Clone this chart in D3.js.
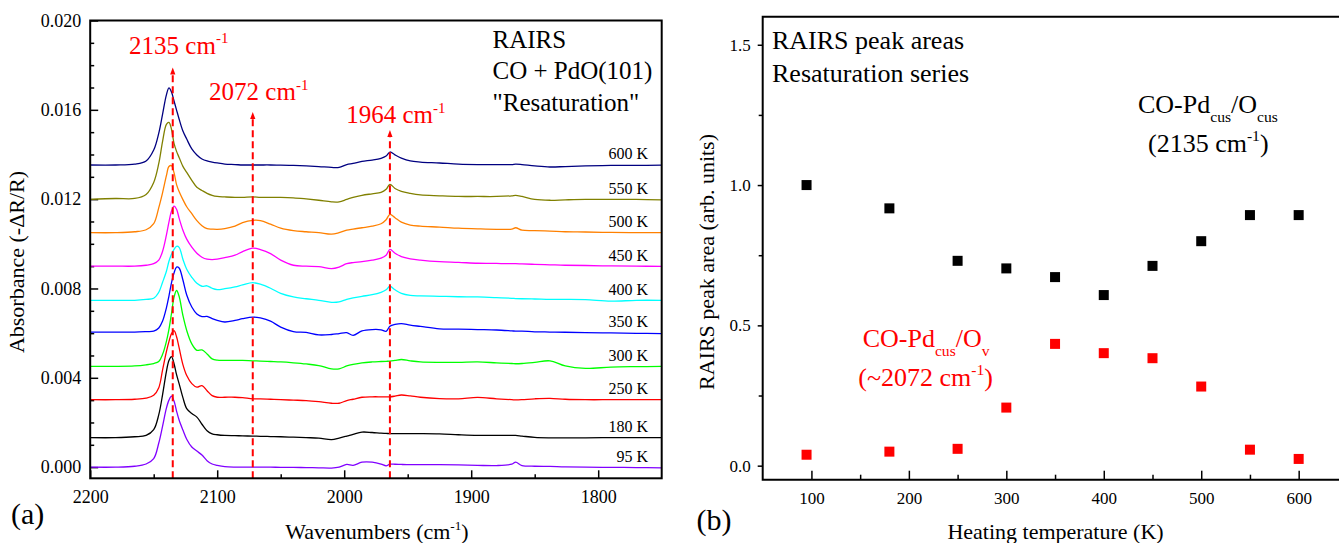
<!DOCTYPE html>
<html>
<head>
<meta charset="utf-8">
<script src="https://cdn.jsdelivr.net/npm/d3@7"></script>
<style>
    body { margin: 0; background: #fff; }
    svg { display: block; font-family: "Liberation Serif", "Times New Roman", serif; }
</style>
</head>
<body>
<div id="chart"></div>
<script>
// ---------- panel (a): RAIRS spectra ----------
// wavenumber grid shared by every spectrum (cm-1)
const wavenumbers = [2200, 2180, 2165, 2156, 2150, 2146, 2143, 2140, 2138, 2136,
    2134, 2132, 2130, 2127, 2124, 2120, 2116, 2112, 2108, 2104,
    2100, 2094, 2086, 2080, 2072, 2066, 2058, 2050, 2040, 2030,
    2020, 2010, 2004, 1998, 1993, 1986, 1978, 1971, 1967, 1964,
    1960, 1955, 1948, 1940, 1925, 1910, 1895, 1880, 1868, 1865,
    1860, 1850, 1838, 1826, 1810, 1790, 1770, 1750];

const temperatureLabels = ["95 K", "180 K", "250 K", "300 K", "350 K", "400 K", "450 K", "500 K", "550 K", "600 K"];
// vertical offset of each trace (absorbance)
const spectraOffsets = [0.0, 0.00132, 0.00302, 0.00451, 0.00605, 0.00747, 0.009, 0.0105, 0.01199, 0.01353];

// absorbance above each trace's offset, in units of 1e-5
const ABS_UNIT = 1e-5;
const absorbance95 = [0, 0, 4, 14, 38, 108, 184, 264, 300, 318, 296, 251, 211, 166, 125, 90, 72, 54, 29, 14, 8, 2, 0, 0, 0, 0, 0, -1, -1, -2, -3, -4, 0, 12, 8, 22, 22, 14, 6, 13, 13, 12, 11, 11, 11, 10, 8, 7, 13, 22, 7, 4, 3, 1, 0, -1, -2, -3];
const absorbance180 = [0, 0, 4, 10, 36, 103, 193, 296, 345, 363, 331, 282, 242, 179, 130, 108, 92, 60, 31, 17, 13, 10, 9, 8, 7, 6, 5, 4, 2, 0, -2, -9, -2, 7, 15, 25, 23, 20, 19, 18, 18, 18, 18, 18, 17, 13, 10, 10, 10, 10, 7, 1, -1, -1, -1, 0, 0, 0];
const absorbance250 = [0, 0, 2, 7, 20, 54, 134, 215, 260, 296, 309, 282, 233, 157, 108, 72, 56, 63, 40, 18, 11, 11, 11, 9, 4, 4, 2, 0, -2, -4, -9, -16, -16, -4, 2, 11, 13, 13, 13, 13, 16, 21, 17, 11, 5, 4, 10, 4, 0, -1, 0, 4, 6, 2, 0, 0, 0, 0];
const absorbance300 = [0, 0, 2, 7, 13, 22, 54, 112, 166, 237, 309, 340, 314, 228, 161, 101, 72, 74, 56, 34, 28, 27, 27, 27, 25, 24, 22, 20, 16, 11, 4, -11, -11, 2, 9, 16, 20, 22, 23, 24, 27, 31, 25, 20, 18, 18, 20, 16, 13, 12, 13, 18, 25, 2, -9, -3, -1, 0];
const absorbance350 = [0, 0, 0, 2, 4, 18, 49, 108, 161, 220, 264, 291, 287, 233, 166, 112, 81, 69, 70, 60, 52, 45, 52, 60, 67, 63, 49, 22, 2, -2, -13, -11, -7, -3, -15, 5, 11, 10, 3, 26, 34, 38, 31, 25, 14, 13, 11, 9, 5, 4, 4, 1, 0, -1, -3, -4, -6, -7];
const absorbance400 = [0, 0, 0, 4, 9, 36, 81, 130, 175, 206, 228, 242, 237, 184, 139, 103, 76, 63, 65, 54, 48, 52, 60, 69, 79, 72, 54, 31, 15, 7, 0, -9, -7, 4, 11, 18, 25, 36, 47, 63, 47, 31, 22, 20, 18, 16, 15, 12, 9, 8, 7, 6, 4, 4, 3, -4, 0, 0];
const absorbance450 = [0, 0, 0, 4, 11, 27, 67, 139, 197, 246, 269, 255, 215, 161, 121, 85, 58, 40, 31, 29, 31, 38, 49, 65, 81, 74, 56, 27, 4, 0, -2, -11, -4, 11, 16, 20, 27, 36, 49, 75, 58, 43, 33, 27, 20, 17, 13, 12, 11, 11, 10, 8, 6, 4, 3, 1, 0, -1];
const absorbance500 = [0, 0, 4, 13, 40, 112, 179, 255, 296, 300, 269, 215, 184, 148, 116, 85, 54, 31, 18, 16, 15, 18, 29, 45, 55, 54, 38, 20, 9, 4, 0, -7, 0, 11, 16, 22, 29, 40, 58, 82, 67, 47, 34, 29, 25, 20, 17, 15, 16, 22, 11, 9, 7, 4, 3, 1, 0, 0];
const absorbance550 = [0, 4, 4, 22, 76, 161, 260, 336, 345, 314, 251, 215, 188, 148, 121, 85, 54, 40, 27, 18, 13, 11, 9, 9, 11, 9, 9, 9, 7, 2, -4, -11, -11, 0, 9, 18, 25, 31, 45, 67, 49, 36, 27, 20, 16, 13, 13, 13, 16, 18, 13, 0, -4, -2, 0, 0, 0, -2];
const absorbance600 = [0, 0, 4, 18, 67, 143, 228, 314, 345, 327, 287, 246, 206, 152, 116, 72, 45, 27, 18, 13, 9, 4, 2, 0, 0, 0, 0, -1, -2, -4, -7, -11, -11, 2, 7, 16, 22, 30, 40, 58, 45, 31, 18, 13, 9, 4, 2, 2, 2, 4, 2, -4, -9, -7, -4, -2, -2, -1];

const spectra = [absorbance95, absorbance180, absorbance250, absorbance300, absorbance350,
    absorbance400, absorbance450, absorbance500, absorbance550, absorbance600];
const spectraColors = ["#8000ff", "#000000", "#ff0000", "#00ff00", "#0000ff",
    "#00ffff", "#ff00ff", "#ff8000", "#808000", "#000080"];

// marked bands: position, arrow tip and label baseline (absorbance)
const bandPositions = [2135, 2072, 1964];
const bandLabels = ["2135", "2072", "1964"];
const bandArrowTops = [0.0179, 0.0159, 0.0151];
const bandLabelLevels = [0.01852, 0.01643, 0.01541];

// ---------- panel (b): peak areas ----------
const heatingTemps = [95, 180, 250, 300, 350, 400, 450, 500, 550, 600];
const areaCusCus = [1.0, 0.917, 0.73, 0.703, 0.672, 0.608, 0.712, 0.80, 0.893, 0.893];
const areaCusV = [0.039, 0.05, 0.06, 0.207, 0.434, 0.401, 0.383, 0.282, 0.057, 0.024];

const svg = d3.select("#chart")
    .append("svg")
    .attr("width", 1339)
    .attr("height", 543);

// text with sub/superscript parts
function richText(parent, x, y, parts, size, color, anchor) {
    const text = parent.append("text")
        .attr("x", x)
        .attr("y", y)
        .attr("font-size", size)
        .attr("fill", color)
        .attr("text-anchor", anchor || "start");
    let shift = 0;
    parts.forEach((p) => {
        const target = p.sup ? -0.42 * size : p.sub ? 0.34 * size : 0;
        text.append("tspan")
            .attr("dy", target - shift)
            .attr("font-size", p.sup || p.sub ? size * 0.6 : size)
            .text(p.t);
        shift = target;
    });
    return text;
}

function styleAxis(g, size) {
    g.select(".domain").remove();
    g.selectAll("line").attr("stroke", "#000").attr("stroke-width", 1.5);
    g.selectAll("text")
        .attr("font-family", "Liberation Serif, Times New Roman, serif")
        .attr("font-size", size)
        .attr("fill", "#000");
}

// ================= panel (a) =================
const frameA = { left: 90.2, right: 661.7, top: 20.5, bottom: 478.3 };
const xA = d3.scaleLinear().domain([2200, 1750]).range([frameA.left, frameA.right]);
const yA = d3.scaleLinear().domain([-0.0005, 0.020]).range([frameA.bottom, frameA.top]);

const gA = svg.append("g");

gA.append("g")
    .attr("transform", `translate(0,${frameA.bottom})`)
    .call(d3.axisBottom(xA).tickValues([2200, 2100, 2000, 1900, 1800]).tickSize(-8).tickPadding(12).tickFormat(d3.format("d")))
    .call((g) => styleAxis(g, 18));
gA.append("g")
    .attr("transform", `translate(0,${frameA.bottom})`)
    .call(d3.axisBottom(xA).tickValues([2150, 2050, 1950, 1850]).tickSize(-4).tickFormat(""))
    .call((g) => styleAxis(g, 18));
gA.append("g")
    .attr("transform", `translate(${frameA.left},0)`)
    .call(d3.axisLeft(yA).tickValues([0, 0.004, 0.008, 0.012, 0.016, 0.020]).tickSize(-8).tickPadding(9).tickFormat(d3.format(".3f")))
    .call((g) => styleAxis(g, 18));
gA.append("g")
    .attr("transform", `translate(${frameA.left},0)`)
    .call(d3.axisLeft(yA).tickValues(d3.range(1, 20).filter((i) => i % 4 !== 0).map((i) => i / 1000)).tickSize(-4).tickFormat(""))
    .call((g) => styleAxis(g, 18));

// spectra
const line = d3.line()
    .x((d) => xA(d.w))
    .y((d) => yA(d.v))
    .curve(d3.curveCatmullRom.alpha(0.5));

spectra.forEach((s, i) => {
    const pts = wavenumbers.map((w, j) => ({ w: w, v: spectraOffsets[i] + s[j] * ABS_UNIT }));
    gA.append("path")
        .datum(pts)
        .attr("d", line)
        .attr("fill", "none")
        .attr("stroke", spectraColors[i])
        .attr("stroke-width", 1.3);

    gA.append("text")
        .attr("x", 648)
        .attr("y", yA(spectraOffsets[i]) - 5.5)
        .attr("text-anchor", "end")
        .attr("font-size", 16)
        .text(temperatureLabels[i]);
});

// dashed band markers with arrow heads
bandPositions.forEach((w, i) => {
    const x = xA(w);
    const tip = yA(bandArrowTops[i]);
    gA.append("line")
        .attr("x1", x).attr("x2", x)
        .attr("y1", frameA.bottom).attr("y2", tip + 5)
        .attr("stroke", "#ff0000")
        .attr("stroke-width", 2)
        .attr("stroke-dasharray", "7,4");
    gA.append("path")
        .attr("d", `M${x},${tip}L${x - 2.6},${tip + 7}L${x + 2.6},${tip + 7}Z`)
        .attr("fill", "#ff0000");
    richText(gA, x + 6, yA(bandLabelLevels[i]),
        [{ t: bandLabels[i] + " cm" }, { t: "-1", sup: true }], 25, "#ff0000", "middle");
});

// frame
gA.append("rect")
    .attr("x", frameA.left).attr("y", frameA.top)
    .attr("width", frameA.right - frameA.left)
    .attr("height", frameA.bottom - frameA.top)
    .attr("fill", "none")
    .attr("stroke", "#000")
    .attr("stroke-width", 2);

// info text
["RAIRS", "CO + PdO(101)", "\"Resaturation\""].forEach((t, i) => {
    gA.append("text")
        .attr("x", 492.5)
        .attr("y", 47.5 + i * 31.8)
        .attr("font-size", 25)
        .text(t);
});

richText(gA, 377, 539, [{ t: "Wavenumbers (cm" }, { t: "-1", sup: true }, { t: ")" }], 22, "#000", "middle");
gA.append("text")
    .attr("transform", "translate(24,262) rotate(-90)")
    .attr("text-anchor", "middle")
    .attr("font-size", 22)
    .text("Absorbance (-\u0394R/R)");
gA.append("text")
    .attr("x", 11)
    .attr("y", 524)
    .attr("font-size", 30)
    .text("(a)");

// ================= panel (b) =================
const frameB = { left: 762.7, right: 1347.4, top: 16.7, bottom: 479.7 };
const xB = d3.scaleLinear().domain([50, 650]).range([frameB.left, frameB.right]);
const yB = d3.scaleLinear().domain([-0.05, 1.6]).range([frameB.bottom, frameB.top]);

const gB = svg.append("g");

gB.append("g")
    .attr("transform", `translate(0,${frameB.bottom})`)
    .call(d3.axisBottom(xB).tickValues([100, 200, 300, 400, 500, 600]).tickSize(-9).tickPadding(12).tickFormat(d3.format("d")))
    .call((g) => styleAxis(g, 17));
gB.append("g")
    .attr("transform", `translate(0,${frameB.bottom})`)
    .call(d3.axisBottom(xB).tickValues([150, 250, 350, 450, 550]).tickSize(-5).tickFormat(""))
    .call((g) => styleAxis(g, 17));
gB.append("g")
    .attr("transform", `translate(${frameB.left},0)`)
    .call(d3.axisLeft(yB).tickValues([0, 0.5, 1.0, 1.5]).tickSize(5).tickPadding(7).tickFormat(d3.format(".1f")))
    .call((g) => styleAxis(g, 17));
gB.append("g")
    .attr("transform", `translate(${frameB.left},0)`)
    .call(d3.axisLeft(yB).tickValues([0.25, 0.75, 1.25]).tickSize(4).tickFormat(""))
    .call((g) => styleAxis(g, 17));

// frame (right side runs past the picture edge)
gB.append("path")
    .attr("d", `M${frameB.right},${frameB.top}H${frameB.left}V${frameB.bottom}H${frameB.right}`)
    .attr("fill", "none")
    .attr("stroke", "#000")
    .attr("stroke-width", 2);

const markerSize = 10;
[[areaCusCus, "#000000"], [areaCusV, "#ff0000"]].forEach(([values, color]) => {
    gB.selectAll(null)
        .data(heatingTemps.map((t, i) => ({ t: t, v: values[i] })))
        .enter()
        .append("rect")
        .attr("x", (d) => xB(d.t) - markerSize / 2)
        .attr("y", (d) => yB(d.v) - markerSize / 2)
        .attr("width", markerSize)
        .attr("height", markerSize)
        .attr("fill", color);
});

gB.append("text").attr("x", 772).attr("y", 48.5).attr("font-size", 26).text("RAIRS peak areas");
gB.append("text").attr("x", 772).attr("y", 81.5).attr("font-size", 26).text("Resaturation series");

richText(gB, 1138, 113.3, [{ t: "CO-Pd" }, { t: "cus", sub: true }, { t: "/O" }, { t: "cus", sub: true }], 26, "#000");
richText(gB, 1148, 151.7, [{ t: "(2135 cm" }, { t: "-1", sup: true }, { t: ")" }], 26, "#000");
richText(gB, 862.7, 346.7, [{ t: "CO-Pd" }, { t: "cus", sub: true }, { t: "/O" }, { t: "v", sub: true }], 26, "#ff0000");
richText(gB, 858.3, 386, [{ t: "(~2072 cm" }, { t: "-1", sup: true }, { t: ")" }], 26, "#ff0000");

gB.append("text")
    .attr("x", 1055.5)
    .attr("y", 539)
    .attr("text-anchor", "middle")
    .attr("font-size", 22)
    .text("Heating temperature (K)");
gB.append("text")
    .attr("transform", "translate(714,262) rotate(-90)")
    .attr("text-anchor", "middle")
    .attr("font-size", 22)
    .text("RAIRS peak area (arb. units)");
gB.append("text")
    .attr("x", 696.5)
    .attr("y", 530)
    .attr("font-size", 30)
    .text("(b)");
</script>
</body>
</html>
